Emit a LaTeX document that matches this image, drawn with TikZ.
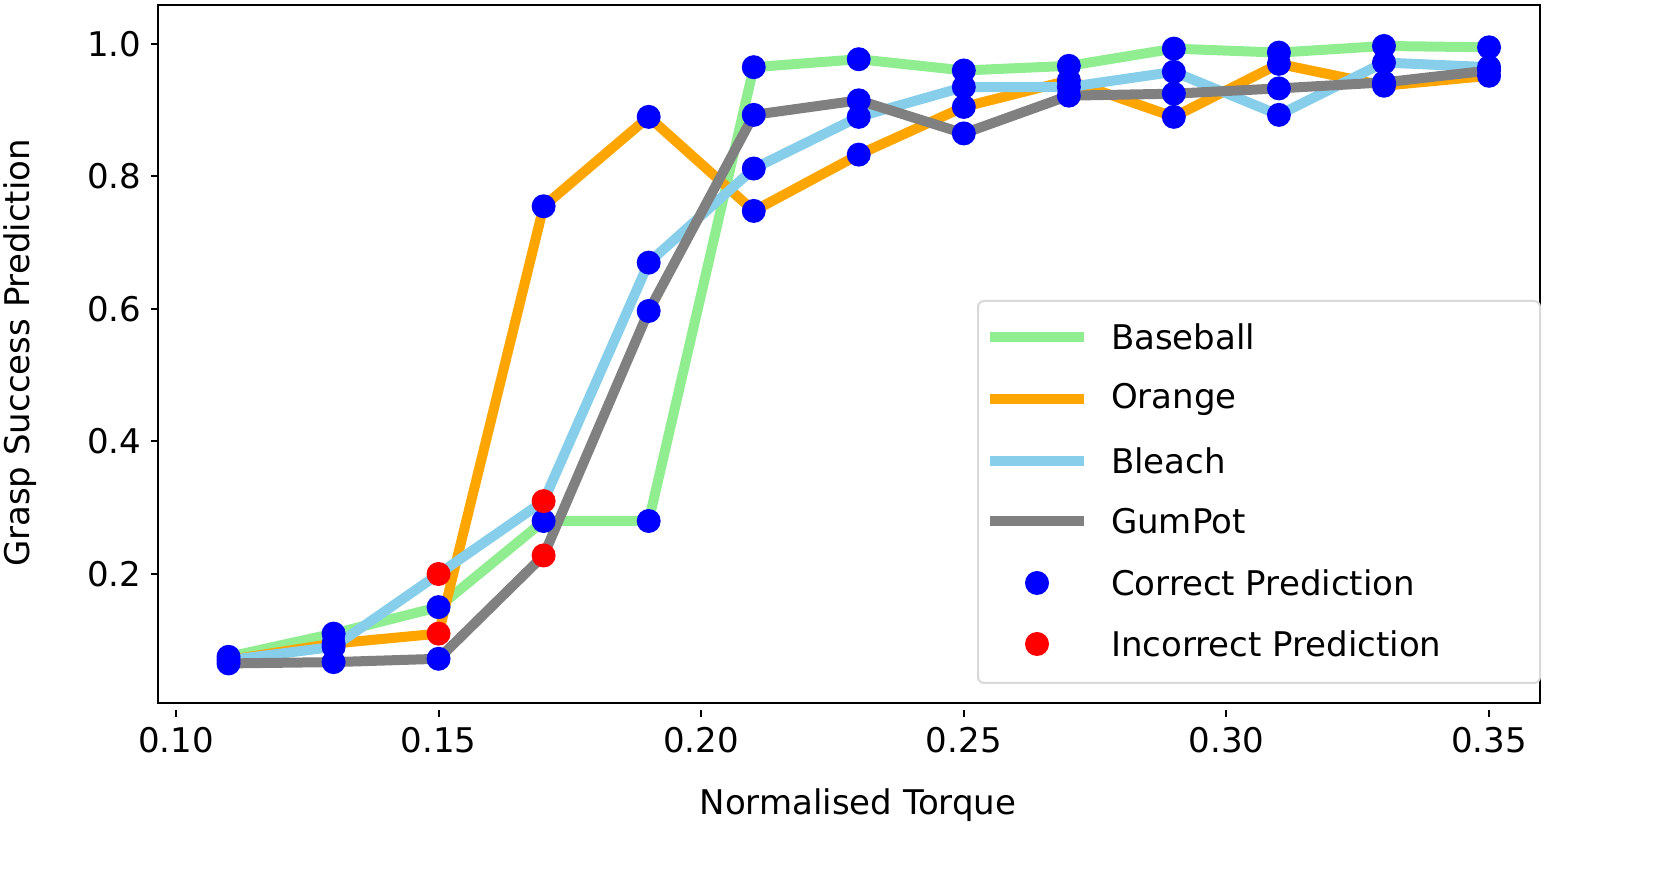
\documentclass[tikz,border=0pt]{standalone}
\usepackage{fontspec}
\setmainfont{DejaVu Sans}
\definecolor{cgreen}{HTML}{90EE90}
\definecolor{corange}{HTML}{FFA500}
\definecolor{cblue}{HTML}{87CEEB}
\definecolor{cgray}{HTML}{808080}
\begin{document}
\begin{tikzpicture}[x=1pt,y=1pt,
  series/.style={line width=5pt,line join=round},
  lbl/.style={font=\fontsize{17}{20}\selectfont},
  dotc/.style={fill=blue},
  dotw/.style={fill=red}]
\begin{scope}[shift={(-174.6pt,88.25pt)},x=2626pt,y=331.25pt]
\draw[series,cgreen] plot coordinates {(0.11,0.075)(0.13,0.11)(0.15,0.15)(0.17,0.28)(0.19,0.28)(0.21,0.965)(0.23,0.977)(0.25,0.96)(0.27,0.967)(0.29,0.993)(0.31,0.987)(0.33,0.997)(0.35,0.995)};
\draw[series,corange] plot coordinates {(0.11,0.07)(0.13,0.095)(0.15,0.11)(0.17,0.755)(0.19,0.89)(0.21,0.748)(0.23,0.833)(0.25,0.905)(0.27,0.945)(0.29,0.89)(0.31,0.97)(0.33,0.937)(0.35,0.952)};
\draw[series,cblue] plot coordinates {(0.11,0.07)(0.13,0.09)(0.15,0.2)(0.17,0.31)(0.19,0.67)(0.21,0.812)(0.23,0.89)(0.25,0.935)(0.27,0.935)(0.29,0.958)(0.31,0.893)(0.33,0.972)(0.35,0.965)};
\draw[series,cgray] plot coordinates {(0.11,0.065)(0.13,0.067)(0.15,0.072)(0.17,0.228)(0.19,0.597)(0.21,0.893)(0.23,0.915)(0.25,0.865)(0.27,0.922)(0.29,0.925)(0.31,0.933)(0.33,0.942)(0.35,0.96)};
\foreach \p in {(0.11,0.075),(0.13,0.11),(0.15,0.15),(0.17,0.28),(0.19,0.28),(0.21,0.965),(0.23,0.977),(0.25,0.96),(0.27,0.967),(0.29,0.993),(0.31,0.987),(0.33,0.997),(0.35,0.995),
 (0.11,0.07),(0.13,0.095),(0.17,0.755),(0.19,0.89),(0.21,0.748),(0.23,0.833),(0.25,0.905),(0.27,0.945),(0.29,0.89),(0.31,0.97),(0.33,0.937),(0.35,0.952),
 (0.13,0.09),(0.19,0.67),(0.21,0.812),(0.23,0.89),(0.25,0.935),(0.27,0.935),(0.29,0.958),(0.31,0.893),(0.33,0.972),(0.35,0.965),
 (0.11,0.065),(0.13,0.067),(0.15,0.072),(0.19,0.597),(0.21,0.893),(0.23,0.915),(0.25,0.865),(0.27,0.922),(0.29,0.925),(0.31,0.933),(0.33,0.942),(0.35,0.96)}
  \fill[dotc] \p circle[radius=6pt];
\foreach \p in {(0.15,0.2),(0.15,0.11),(0.17,0.31),(0.17,0.228)}
  \fill[dotw] \p circle[radius=6pt];
\foreach \t/\s in {0.10/0.10,0.15/0.15,0.20/0.20,0.25/0.25,0.30/0.30,0.35/0.35}{
  \draw[line width=1pt] (\t,0) ++(0,-2pt) -- ++(0,-3.5pt) node[lbl,below=1pt] (xt\s) {\s};}
\foreach \t in {0.2,0.4,0.6,0.8,1.0}{
  \draw[line width=1pt] (0.10,\t) ++(-9pt,0) -- ++(-3.5pt,0) node[lbl,left=1pt] (yt\t) {\t};}
\end{scope}
\draw[line width=1pt] (79,90) rectangle (770,439);
\node[lbl] (xl) at (429,39) {Normalised Torque};
\node[lbl,rotate=90] (yl) at (10,265) {Grasp Success Prediction};
\draw[rounded corners=3pt,draw=black!15,line width=1pt,fill=white] (489,100) rectangle (770,291);
\foreach \c/\t/\yy in {cgreen/Baseball/273,corange/Orange/242,cblue/Bleach/211,cgray/GumPot/181}{
  \draw[series,\c,line join=miter] (495,\yy) -- (542,\yy);
  \node[lbl,anchor=west] (lg\t) at (552,\yy) {\t};}
\fill[dotc] (518.5,150) circle[radius=6pt];
\node[lbl,anchor=west] (lgc) at (552,150) {Correct Prediction};
\fill[dotw] (518.5,119.5) circle[radius=6pt];
\node[lbl,anchor=west] (lgw) at (552,119.5) {Incorrect Prediction};
\pgfresetboundingbox
\useasboundingbox (0,0) rectangle (830,441.5);
\end{tikzpicture}
\end{document}
